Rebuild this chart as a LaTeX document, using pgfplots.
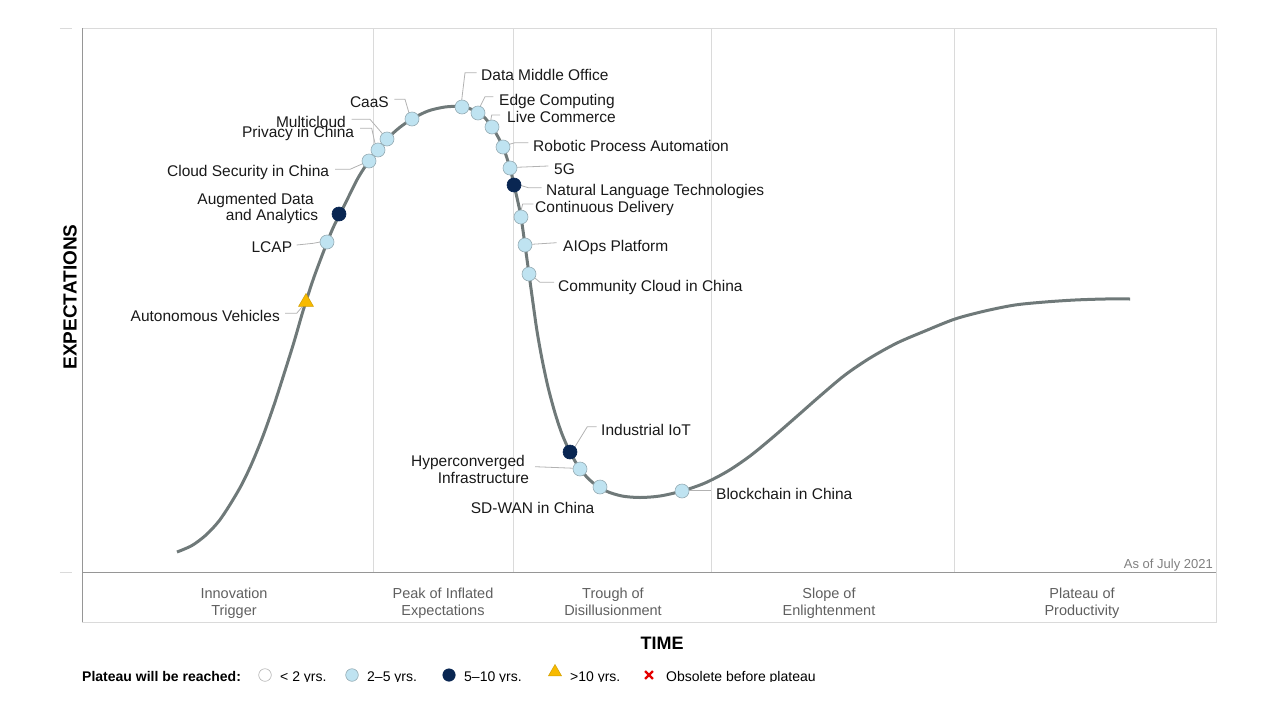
\documentclass[border=0pt]{standalone}
\usepackage{pgfplots}
\pgfplotsset{compat=1.18}
\usepackage{fontspec}
\setmainfont{Liberation Sans}

\definecolor{curvec}{RGB}{111,121,121}
\definecolor{lblue}{RGB}{191,227,241}
\definecolor{lbord}{RGB}{150,172,180}
\definecolor{navy}{RGB}{9,38,82}
\definecolor{amber}{RGB}{247,186,0}
\definecolor{gridc}{RGB}{218,218,218}
\definecolor{axisg}{RGB}{150,150,150}
\definecolor{phasec}{RGB}{95,95,95}
\definecolor{leadc}{RGB}{178,178,178}
\definecolor{txt}{RGB}{25,25,25}

\begin{document}
\begin{tikzpicture}[
  tl/.style={inner sep=0pt, text=txt, font=\fontsize{15.5}{17}\selectfont},
  ph/.style={inner sep=0pt, text=phasec, font=\fontsize{14.5}{17}\selectfont, anchor=base},
  lg/.style={inner sep=0pt, text=black, font=\fontsize{14}{16}\selectfont, anchor=base west},
  lead/.style={draw=leadc, line width=0.8pt},
]
\begin{axis}[
  scale only axis, width=1134pt, height=544pt,
  xmin=82, xmax=1216, ymin=28, ymax=572, y dir=reverse,
  clip=false, axis line style={draw=none},
  xtick={373,513,711,954}, xticklabels={}, ytick=\empty,
  major tick length=0pt, xmajorgrids,
  grid style={draw=gridc, line width=0.9pt},
]
% frame
\draw[gridc, line width=1pt] (axis cs:82,28) -- (axis cs:1216,28) -- (axis cs:1216,622) -- (axis cs:82,622);
\draw[axisg, line width=1pt] (axis cs:82,28) -- (axis cs:82,622);
\draw[axisg, line width=1pt] (axis cs:82,572) -- (axis cs:1216,572);
\draw[gridc, line width=1pt] (axis cs:60,28) -- (axis cs:72,28);
\draw[gridc, line width=1pt] (axis cs:60,572) -- (axis cs:72,572);

% hype curve
\addplot[curvec, line width=3pt, smooth, no marks] coordinates {
(177,552) (192,545.5) (206,535) (219,521) (231,503) (242,484) (252,463)
(263,436) (274,405) (284,374) (294,342) (303,311) (313,280) (323,253)
(333,228) (345,204) (358,178) (369,161) (378,150) (387,139) (399,128)
(412,119) (428,111) (445,107) (460,106.5) (472,109.5) (484,117) (494,130)
(503,147) (510,168) (514,185) (517.5,200) (521,217) (525,245) (529,274)
(533,303) (537,331) (542,359) (548,387) (555,413) (562,434) (570,452)
(580,469) (592,482) (606,491) (622,496) (640,497.5) (660,496) (682,491)
(705,483) (728,471) (750,456) (772,438) (795,418) (820,396) (845,375)
(870,358) (897,343) (925,331) (955,319) (985,311) (1015,305) (1045,302)
(1075,300) (1105,299) (1130,299)
};

% leader lines
\draw[lead] (axis cs:461.7,100) -- (axis cs:465,72.7) -- (axis cs:476.7,72.7);
\draw[lead] (axis cs:480,106.7) -- (axis cs:485,96.7) -- (axis cs:493.3,96.7);
\draw[lead] (axis cs:490.7,120.7) -- (axis cs:491.7,115) -- (axis cs:500,115);
\draw[lead] (axis cs:506.7,145) -- (axis cs:515,142.7) -- (axis cs:528.3,142.7);
\draw[lead] (axis cs:516.7,167.3) -- (axis cs:548.3,166);
\draw[lead] (axis cs:519.3,185) -- (axis cs:528.3,187.7) -- (axis cs:541.7,187.7);
\draw[lead] (axis cs:520.7,211.7) -- (axis cs:522.7,204) -- (axis cs:533.3,204);
\draw[lead] (axis cs:531.7,244.3) -- (axis cs:556.7,242.7);
\draw[lead] (axis cs:533.3,276.7) -- (axis cs:540,282.3) -- (axis cs:554,282.3);
\draw[lead] (axis cs:394.3,99.3) -- (axis cs:405,99.3) -- (axis cs:409.3,114);
\draw[lead] (axis cs:351.7,119.3) -- (axis cs:370,119.3) -- (axis cs:382.7,134);
\draw[lead] (axis cs:360,128.3) -- (axis cs:371.7,128.3) -- (axis cs:375,143.3);
\draw[lead] (axis cs:335,169.3) -- (axis cs:350,169.3) -- (axis cs:365,162.7);
\draw[lead] (axis cs:296.7,245) -- (axis cs:313.3,243.3) -- (axis cs:321.7,241.7);
\draw[lead] (axis cs:285,313.3) -- (axis cs:296.7,313.3) -- (axis cs:301.7,307.3);
\draw[lead] (axis cs:575,446.7) -- (axis cs:587.3,426.7) -- (axis cs:596.7,426.7);
\draw[lead] (axis cs:535,466.7) -- (axis cs:575,468.3);
\draw[lead] (axis cs:688.3,490.7) -- (axis cs:710.7,490.7);

% technologies: 2-5 years
\addplot[only marks, mark=*, mark size=7pt, mark options={fill=lblue, draw=lbord, line width=0.6pt}] coordinates {
(412,119) (387,139) (378,150) (369,161) (327,242) (462,107) (478,113)
(492,127) (503,147) (510,168) (521,217) (525,245) (529,274)
(580,469) (600,487) (682,491)
};
% 5-10 years
\addplot[only marks, mark=*, mark size=7pt, mark options={fill=navy, draw=navy, line width=0.6pt}] coordinates {
(339,214) (514,185) (570,452)
};
% >10 years
\addplot[only marks, mark=triangle*, mark size=8.5pt, mark options={fill=amber, draw=amber!85!black, line width=0.5pt}] coordinates {
(306,302)
};

% labels, right side of the peak
\node[tl, anchor=base west] at (axis cs:481,80) {Data Middle Office};
\node[tl, anchor=base west] at (axis cs:499,105) {Edge Computing};
\node[tl, anchor=base west] at (axis cs:507,122.7) {Live Commerce};
\node[tl, anchor=base west] at (axis cs:533,151) {Robotic Process Automation};
\node[tl, anchor=base west] at (axis cs:554,174) {5G};
\node[tl, anchor=base west] at (axis cs:546,195) {Natural Language Technologies};
\node[tl, anchor=base west] at (axis cs:535,212.3) {Continuous Delivery};
\node[tl, anchor=base west] at (axis cs:563,251.5) {AIOps Platform};
\node[tl, anchor=base west] at (axis cs:558,291.5) {Community Cloud in China};
% labels, left side
\node[tl, anchor=base east] at (axis cs:389,107) {CaaS};
\node[tl, anchor=base east] at (axis cs:346,127) {Multicloud};
\node[tl, anchor=base east] at (axis cs:354.3,137.5) {Privacy in China};
\node[tl, anchor=base east] at (axis cs:329.3,176.5) {Cloud Security in China};
\node[tl, anchor=base east] at (axis cs:314,204) {Augmented Data};
\node[tl, anchor=base east] at (axis cs:318.3,220.5) {and Analytics};
\node[tl, anchor=base east] at (axis cs:292.3,252.7) {LCAP};
\node[tl, anchor=base east] at (axis cs:280,321) {Autonomous Vehicles};
% labels, trough
\node[tl, anchor=base west] at (axis cs:601,435) {Industrial IoT};
\node[tl, anchor=base east] at (axis cs:525,466.7) {Hyperconverged};
\node[tl, anchor=base east] at (axis cs:529.3,483.3) {Infrastructure};
\node[tl, anchor=base east] at (axis cs:594.5,513.3) {SD-WAN in China};
\node[tl, anchor=base west] at (axis cs:716,499) {Blockchain in China};

\node[inner sep=0pt, anchor=base east, text=axisg!85!black, font=\fontsize{13}{15}\selectfont] at (axis cs:1213,568) {As of July 2021};

% phases
\node[ph] at (axis cs:234,598) {Innovation};
\node[ph] at (axis cs:234,615.5) {Trigger};
\node[ph] at (axis cs:443,598) {Peak of Inflated};
\node[ph] at (axis cs:443,615.5) {Expectations};
\node[ph] at (axis cs:613,598) {Trough of};
\node[ph] at (axis cs:613,615.5) {Disillusionment};
\node[ph] at (axis cs:829,598) {Slope of};
\node[ph] at (axis cs:829,615.5) {Enlightenment};
\node[ph] at (axis cs:1082,598) {Plateau of};
\node[ph] at (axis cs:1082,615.5) {Productivity};

% axis titles
\node[inner sep=0pt, anchor=base, font=\fontsize{18}{20}\selectfont\bfseries] at (axis cs:662,649) {TIME};
\node[inner sep=0pt, rotate=90, anchor=center, font=\fontsize{19}{21}\selectfont\bfseries] at (axis cs:70,297) {EXPECTATIONS};

% legend
\node[lg, font=\fontsize{14}{16}\selectfont\bfseries] at (axis cs:82,681) {Plateau will be reached:};
\addplot[only marks, mark=*, mark size=6.3pt, mark options={fill=white, draw=axisg!70, line width=0.6pt}] coordinates {(265,675)};
\addplot[only marks, mark=*, mark size=6.3pt, mark options={fill=lblue, draw=lbord, line width=0.6pt}] coordinates {(352,675)};
\addplot[only marks, mark=*, mark size=6.3pt, mark options={fill=navy, draw=navy}] coordinates {(449,675)};
\addplot[only marks, mark=triangle*, mark size=7.5pt, mark options={fill=amber, draw=amber!85!black, line width=0.5pt}] coordinates {(555,672)};
\addplot[only marks, mark=x, mark size=5.5pt, mark options={draw=red!90!black, line width=2.3pt}] coordinates {(649,675)};
\node[lg] at (axis cs:280,681) {< 2 yrs.};
\node[lg] at (axis cs:367,681) {2--5 yrs.};
\node[lg] at (axis cs:464,681) {5--10 yrs.};
\node[lg] at (axis cs:570,681) {>10 yrs.};
\node[lg] at (axis cs:666,681) {Obsolete before plateau};

\coordinate (tl) at (axis cs:0,0);
\coordinate (br) at (axis cs:1280,720);
\coordinate (cut) at (axis cs:0,682);
\end{axis}
\fill[white] (cut) rectangle (br);
\pgfresetboundingbox
\useasboundingbox (tl) rectangle (br);
\end{tikzpicture}
\end{document}
